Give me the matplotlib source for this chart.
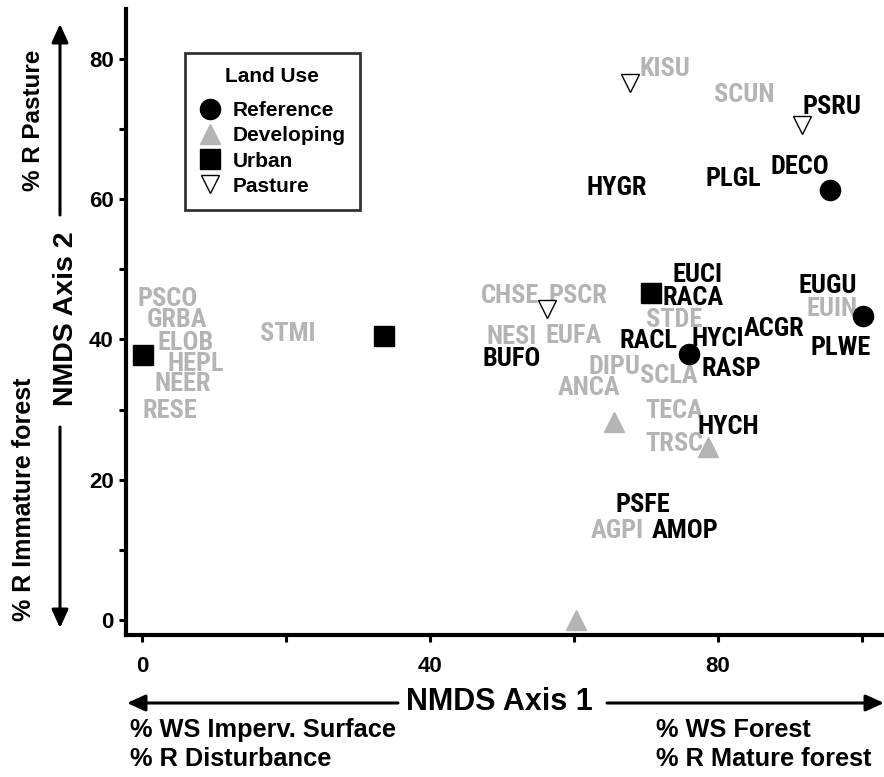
import matplotlib
matplotlib.use("Agg")
import matplotlib.pyplot as plt
from matplotlib.lines import Line2D
from matplotlib.patches import FancyArrowPatch

plt.rcParams['font.family'] = ['Liberation Sans', 'DejaVu Sans']
plt.rcParams['font.weight'] = 'bold'
LABEL_FONT = ['Roboto Condensed', 'Liberation Sans']

GRAY = '#b4b4b4'

# site scores by land use
ref_x = [95.6, 100.1, 76.0]
ref_y = [61.3, 43.4, 37.9]
dev_x = [65.6, 78.6, 60.3]
dev_y = [28.2, 24.7, 0.0]
urb_x = [0.1, 33.6, 70.7]
urb_y = [37.8, 40.5, 46.6]
pas_x = [67.8, 91.7, 56.3]
pas_y = [76.6, 70.6, 44.4]

# species scores
sp_names = ['PSCO', 'GRBA', 'ELOB', 'HEPL', 'NEER', 'RESE', 'STMI', 'KISU', 'SCUN',
            'PSRU', 'DECO', 'PLGL', 'HYGR', 'EUCI', 'RACA', 'CHSE', 'PSCR', 'STDE',
            'EUGU', 'EUIN', 'ACGR', 'NESI', 'EUFA', 'RACL', 'HYCI', 'PLWE', 'BUFO',
            'DIPU', 'SCLA', 'RASP', 'ANCA', 'TECA', 'HYCH', 'TRSC', 'PSFE', 'AGPI', 'AMOP']
sp_x = [3.6, 4.9, 6.0, 7.5, 5.7, 3.9, 20.3, 72.6, 83.6,
        95.8, 91.4, 82.1, 66.0, 77.1, 76.5, 51.1, 60.6, 73.9,
        95.3, 95.8, 87.8, 51.4, 60.0, 70.3, 80.0, 97.1, 51.4,
        65.6, 73.2, 81.9, 62.1, 74.0, 81.5, 73.9, 69.6, 66.0, 75.4]
sp_y = [46.1, 43.1, 39.9, 36.9, 34.0, 30.2, 41.1, 78.9, 75.2,
        73.5, 64.9, 63.2, 61.9, 49.5, 46.2, 46.5, 46.5, 43.1,
        47.9, 44.7, 41.9, 40.7, 40.8, 40.1, 40.4, 39.1, 37.5,
        36.4, 35.1, 36.1, 33.4, 30.2, 27.8, 25.4, 16.7, 13.0, 13.0]
sp_dark = ['PSRU', 'DECO', 'PLGL', 'HYGR', 'EUCI', 'RACA', 'EUGU', 'ACGR', 'RACL',
           'HYCI', 'PLWE', 'BUFO', 'RASP', 'HYCH', 'PSFE', 'AMOP']

W, H = 884, 777
fig = plt.figure(figsize=(W / 100, H / 100), dpi=100)
ax = fig.add_axes([126 / W, (H - 635) / H, (W - 126) / W, (635 - 9) / H])

for n, x, y in zip(sp_names, sp_x, sp_y):
    ax.text(x, y - 1.35, n, ha='center', va='baseline', fontsize=19, family=LABEL_FONT,
            color='black' if n in sp_dark else GRAY, zorder=2)

ax.plot(ref_x, ref_y, 'o', ms=14.5, color='black', zorder=3)
ax.plot(dev_x, dev_y, '^', ms=14.5, color=GRAY, zorder=3)
ax.plot(urb_x, urb_y, 's', ms=14.5, color='black', zorder=3)
ax.plot(pas_x, pas_y, 'v', ms=13.5, mfc='white', mec='black', mew=1, zorder=3)

ax.set_xlim(-2.22, 103.06)
ax.set_ylim(-2.14, 87.1)
ax.set_xticks([0, 40, 80])
ax.set_xticks([20, 60, 100], minor=True)
ax.set_yticks([0, 20, 40, 60, 80])
ax.set_yticks([10, 30, 50, 70], minor=True)
for s in ['top', 'right']:
    ax.spines[s].set_visible(False)
for s in ['left', 'bottom']:
    ax.spines[s].set_linewidth(3)
ax.tick_params(which='both', direction='out', length=5, width=2.2, labelsize=16)
ax.tick_params(axis='x', which='both', pad=10)
ax.tick_params(axis='y', which='both', pad=4)

handles = [
    Line2D([], [], ls='none', marker='o', ms=14.5, color='black'),
    Line2D([], [], ls='none', marker='^', ms=14.5, color=GRAY),
    Line2D([], [], ls='none', marker='s', ms=14.5, color='black'),
    Line2D([], [], ls='none', marker='v', ms=13.5, mfc='white', mec='black', mew=1),
]
leg = ax.legend(handles, ['Reference', 'Developing', 'Urban', 'Pasture'],
                title='Land Use', loc='upper left',
                bbox_to_anchor=(185 / W, 1 - 53 / H), bbox_transform=fig.transFigure,
                fontsize=15, title_fontsize=15, frameon=True, fancybox=False,
                edgecolor='black', borderpad=0.68, labelspacing=0.29,
                handlelength=1.0, handletextpad=0.6, borderaxespad=0)
leg.get_frame().set_linewidth(2)
leg.get_title().set_fontweight('bold')
leg._legend_box.sep = 11

# axis titles and direction arrows (figure pixel coordinates, y from top)
def fx(px):
    return px / W

def fy(py):
    return 1 - py / H

fig.text(fx(499), fy(702), 'NMDS Axis 1', ha='center', va='center', fontsize=22)
fig.text(fx(66), fy(319), 'NMDS Axis 2', ha='center', va='center', fontsize=20.5, rotation=90)
fig.text(fx(34), fy(120), '% R Pasture', ha='center', va='center', fontsize=17.5, rotation=90)
fig.text(fx(24), fy(499), '% R Immature forest', ha='center', va='center', fontsize=18, rotation=90)
fig.text(fx(130), fy(730), '% WS Imperv. Surface', ha='left', va='center', fontsize=18.3)
fig.text(fx(130), fy(759), '% R Disturbance', ha='left', va='center', fontsize=18.3)
fig.text(fx(656), fy(730), '% WS Forest', ha='left', va='center', fontsize=18.3)
fig.text(fx(656), fy(759), '% R Mature forest', ha='left', va='center', fontsize=18.3)

arrows = [((398, 703), (127, 703)), ((607, 703), (884, 703)),
          ((60, 215), (60, 24)), ((60, 427), (60, 628))]
for (x0, y0), (x1, y1) in arrows:
    fig.add_artist(FancyArrowPatch((fx(x0), fy(y0)), (fx(x1), fy(y1)),
                                   transform=fig.transFigure,
                                   arrowstyle='-|>,head_length=0.55,head_width=0.25',
                                   mutation_scale=20, lw=2.2, color='black',
                                   shrinkA=0, shrinkB=0))

fig.savefig('out.png', dpi=100)
